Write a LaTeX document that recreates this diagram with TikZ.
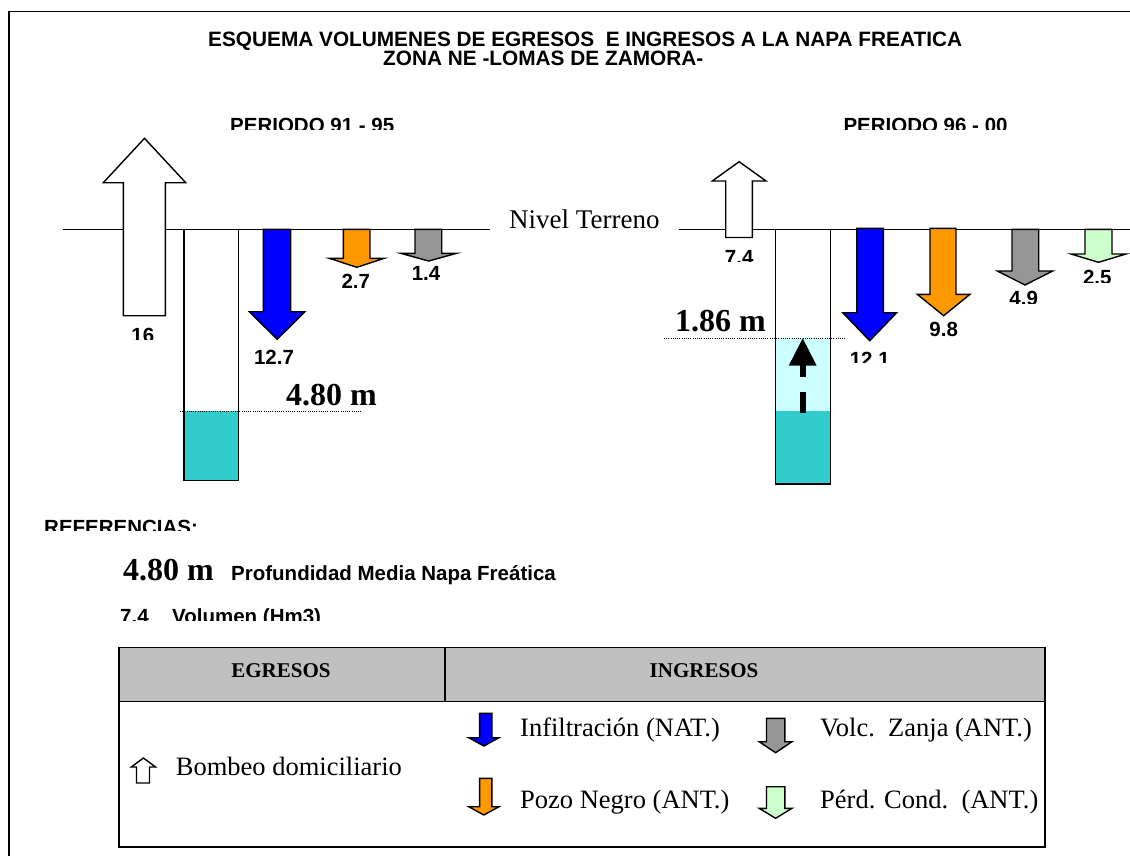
\documentclass[tikz,border=0pt]{standalone}
\usepackage{fontspec}
\setmainfont{Liberation Serif}
\setsansfont{Liberation Sans}
\definecolor{infil}{HTML}{0000FF}
\definecolor{pozo}{HTML}{FF9900}
\definecolor{zanja}{HTML}{969696}
\definecolor{perd}{HTML}{CCFFCC}
\definecolor{agua}{HTML}{33CCCC}
\definecolor{aguaclara}{HTML}{CCFFFF}
\definecolor{cabecera}{HTML}{C0C0C0}
\tikzset{
  arrowbox/.style={draw=black, line width=1.4pt, line join=miter},
  frame/.style={draw=black, line width=1.5pt},
  ground/.style={draw=black, line width=1.5pt},
  wellwall/.style={draw=black, line width=1.3pt},
  level/.style={draw=black, line width=1pt, dash pattern=on 1pt off 1.2pt},
  sanslbl/.style={font=\sffamily\bfseries\fontsize{20.5}{24}\selectfont, inner sep=0pt, anchor=base},
  sanswest/.style={sanslbl, anchor=base west},
  titlelbl/.style={font=\sffamily\bfseries\fontsize{20.8}{24}\selectfont, inner sep=0pt, anchor=base west, text height=14.5pt, text depth=0pt},
  bigdepth/.style={font=\rmfamily\bfseries\fontsize{32}{36}\selectfont, inner sep=0pt, anchor=base west},
  serifwest/.style={font=\rmfamily\fontsize{26.5}{30}\selectfont, inner sep=0pt, anchor=base west},
  headlbl/.style={font=\rmfamily\bfseries\fontsize{21}{24}\selectfont, inner sep=0pt, anchor=base},
  tablebox/.style={draw=black, line width=1.3pt},
}
% down block arrow: fill, shaft left, shaft right, top, head base, wing left, wing right, tip
\newcommand\DnArr[8]{%
  \filldraw[arrowbox, fill=#1] (#2,#4) -- (#3,#4) -- (#3,#5) -- (#7,#5) -- ({(#6+#7)/2},#8) -- (#6,#5) -- (#2,#5) -- cycle;}
% up block arrow: fill, shaft left, shaft right, bottom, head base, wing left, wing right, tip
\newcommand\UpArr[8]{%
  \filldraw[arrowbox, fill=#1] (#2,#4) -- (#3,#4) -- (#3,#5) -- (#7,#5) -- ({(#6+#7)/2},#8) -- (#6,#5) -- (#2,#5) -- cycle;}
% clipped label: name, centre x, cap top, clip y, text
\newcommand\ClipLbl[5]{%
  \begin{scope}
    \clip (#2-70,#3-30) rectangle (#2+70,#4);
    \node[sanslbl] (#1) at (#2,#3+14.7) {#5};
  \end{scope}}
\begin{document}
\begin{tikzpicture}[x=1pt,y=-1pt]
\useasboundingbox (0,0) rectangle (1130,856);
% outer frame (cropped)
\draw[frame] (9,856) -- (9,11.5) -- (1130,11.5);

% titles
\node[titlelbl] (t1) at (208,46.5) {ESQUEMA VOLUMENES DE EGRESOS\ \ E INGRESOS A LA NAPA FREATICA};
\node[titlelbl] (t2) at (383,66) {ZONA NE -LOMAS DE ZAMORA-};
\begin{scope}
  \clip (200,100) rectangle (1030,130);
  \node[sanswest] (p1) at (230,133) {PERIODO 91 - 95};
  \node[sanswest] (p2) at (843.3,133) {PERIODO 96 - 00};
\end{scope}

% ---------- left scheme (91-95)
\draw[ground] (62.7,229.3) -- (490,229.3);
\fill[agua] (184,411) rectangle (238.3,480.7);
\draw[wellwall] (184,229.3) -- (184,480.7) -- (238.3,480.7) -- (238.3,229.3);
\draw[level] (180,411) -- (362.3,411);
\node[bigdepth] (d1) at (286,405) {4.80 m};
\UpArr{white}{123.3}{165.3}{315.7}{182.7}{103.3}{185.7}{138.3}
\DnArr{infil}{263.3}{290.7}{229.3}{311.7}{249.3}{305}{339.3}
\DnArr{pozo}{343.3}{370}{229.3}{258.3}{329.3}{384.3}{267.3}
\DnArr{zanja}{415}{441.7}{229.3}{253.3}{400.7}{456.7}{261}
\ClipLbl{l16}{142.8}{327.3}{339.3}{16}
\node[sanslbl] (l127) at (274,364.7) {12.7};
\node[sanslbl] (l27) at (355.8,288) {2.7};
\node[sanslbl] (l14) at (426,280.4) {1.4};

% ---------- right scheme (96-00)
\node[font=\rmfamily\fontsize{27}{30}\selectfont, inner sep=0pt, anchor=base west] (nt) at (509,228.3) {Nivel Terreno};
\draw[ground] (679,229.3) -- (1130,229.3);
\fill[aguaclara] (775.7,338.3) rectangle (830.7,411);
\fill[agua] (775.7,411) rectangle (830.7,484);
\draw[wellwall] (775.7,229.3) -- (775.7,484) -- (830.7,484) -- (830.7,229.3);
\draw[level] (664,338.3) -- (845.7,338.3);
\node[bigdepth] (d2) at (675,331) {1.86 m};
% dashed rise arrow
\fill[black] (802.7,338.3) -- (816.7,365.7) -- (788.7,365.7) -- cycle;
\fill[black] (799.8,365) rectangle (805.6,376.7);
\fill[black] (799.8,392.3) rectangle (805.6,412.7);
\UpArr{white}{725.7}{752.3}{237.5}{181}{712.3}{766}{161.7}
\DnArr{infil}{856.7}{883.3}{228.3}{312.7}{842.7}{896.7}{340.7}
\DnArr{pozo}{930}{956}{228.3}{294.3}{917.3}{970}{315.7}
\DnArr{zanja}{1012}{1038.7}{229.3}{271}{997.3}{1052.7}{285}
\DnArr{perd}{1085}{1112}{229.3}{254}{1071}{1126}{262.3}
\ClipLbl{r74}{739.2}{250}{261}{7.4}
\ClipLbl{r121}{869.7}{351.7}{362.3}{12.1}
\node[sanslbl] (r98) at (943.7,336.4) {9.8};
\ClipLbl{r49}{1023.7}{291}{303.3}{4.9}
\ClipLbl{r25}{1097.3}{270}{282.3}{2.5}

% ---------- references
\begin{scope}
  \clip (30,500) rectangle (400,530);
  \node[sanswest] (ref) at (44,534.7) {REFERENCIAS:};
\end{scope}
\node[bigdepth] (d3) at (123,580) {4.80 m};
\node[sanswest] (prof) at (231,580) {Profundidad Media Napa Freática};
\begin{scope}
  \clip (100,590) rectangle (400,620);
  \node[sanswest] (v74) at (120,623.7) {7.4};
  \node[sanswest] (vol) at (172,623.7) {Volumen (Hm3)};
\end{scope}

% ---------- legend table
\fill[cabecera] (119,647.3) rectangle (1045,701.5);
\draw[tablebox] (119,647.3) rectangle (1045,847);
\draw[tablebox] (119,701.5) -- (1045,701.5);
\draw[tablebox] (445,647.3) -- (445,701.5);
\node[headlbl] (eg) at (281,677) {EGRESOS};
\node[headlbl] (ing) at (704,677) {INGRESOS};
\UpArr{white}{136.5}{149.5}{783}{767}{131.3}{155.6}{758}
\node[serifwest] (bomb) at (175.7,775) {Bombeo domiciliario};
\DnArr{infil}{479.6}{491.8}{713.3}{737.7}{468.7}{499}{746}
\node[serifwest] (infl) at (520,736.5) {Infiltración (NAT.)};
\DnArr{pozo}{479.6}{491.8}{778.3}{806.7}{468.7}{499}{815}
\node[serifwest] (pozo) at (520,808.3) {Pozo Negro (ANT.)};
\DnArr{zanja}{766.5}{784.8}{718.3}{741.7}{759.2}{792}{752.7}
\node[serifwest] (volc) at (820,736.5) {Volc.\ \ Zanja (ANT.)};
\DnArr{perd}{766.5}{784.8}{786.7}{808.3}{759.2}{792}{818.3}
\node[serifwest] (perdc) at (820,808.3) {Pérd. Cond.\ \ (ANT.)};
\end{tikzpicture}
\end{document}
